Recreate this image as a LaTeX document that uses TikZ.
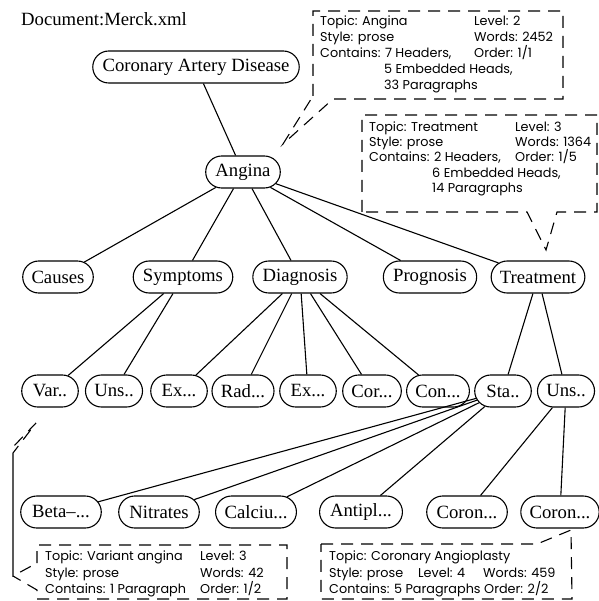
\documentclass[tikz,border=0pt]{standalone}
\usepackage{fontspec}
\setmainfont{Liberation Serif}
\newfontfamily\calloutfont{Poppins}
\usetikzlibrary{shapes.misc}
% pad short labels to a common minimum width
\newcommand\padlabel[2]{\setbox0\hbox{#2}\ifdim\wd0<#1\makebox[#1]{#2}\else\box0\fi}
\begin{document}
\begin{tikzpicture}[x=1pt,y=-1pt,
  topic/.style={draw, rounded rectangle, line width=1.1pt, minimum height=32pt,
    inner xsep=7.5pt, inner ysep=0pt,
    font=\fontsize{18.7}{20}\selectfont},
  link/.style={line width=1.1pt},
  balloon/.style={line width=1.1pt, dash pattern=on 12pt off 8pt, line join=miter},
  info/.style={anchor=base west, inner sep=0pt, font=\calloutfont\fontsize{12.8}{14}\selectfont},
]
\useasboundingbox (0,0) rectangle (598,601);

% document title
\node[anchor=base west, inner sep=0pt, font=\fontsize{18.7}{20}\selectfont] (docname) at (21,26) {Document:Merck.xml};

% tree nodes
\node[topic] (cad) at (196,67) {Coronary Artery Disease};
\node[topic] (angina) at (243,172) {Angina};

\node[topic] (causes) at (58,277) {Causes};
\node[topic] (symptoms) at (183,277) {Symptoms};
\node[topic] (diagnosis) at (300,277) {Diagnosis};
\node[topic] (prognosis) at (430,277) {Prognosis};
\node[topic] (treatment) at (538,277) {Treatment};

\node[topic] (var) at (50,391) {\padlabel{39pt}{Var..}};
\node[topic] (unsA) at (114,391) {\padlabel{39pt}{Uns..}};
\node[topic] (exA) at (179,391) {\padlabel{39pt}{Ex...}};
\node[topic] (rad) at (243,391) {\padlabel{39pt}{Rad...}};
\node[topic] (exB) at (308,391) {\padlabel{39pt}{Ex...}};
\node[topic] (cor) at (372,391) {\padlabel{39pt}{Cor...}};
\node[topic] (con) at (438,391) {\padlabel{39pt}{Con...}};
\node[topic] (sta) at (503,391) {\padlabel{39pt}{Sta..}};
\node[topic] (unsB) at (566,391) {\padlabel{39pt}{Uns..}};

\node[topic] (beta) at (61,512) {\padlabel{63pt}{Beta--...}};
\node[topic] (nitrates) at (159,512) {\padlabel{63pt}{Nitrates}};
\node[topic] (calciu) at (256,512) {\padlabel{63pt}{Calciu...}};
\node[topic] (antipl) at (361,512) {\padlabel{63pt}{Antipl...}};
\node[topic] (coronA) at (467,512) {\padlabel{63pt}{Coron...}};
\node[topic] (coronB) at (560,512) {\padlabel{60pt}{Coron...}};

% tree edges
\draw[link] (cad) -- (angina);
\foreach \c in {causes,symptoms,diagnosis,prognosis,treatment}
  \draw[link] (angina) -- (\c);
\foreach \c in {var,unsA}
  \draw[link] (symptoms) -- (\c);
\foreach \c in {exA,rad,exB,cor,con}
  \draw[link] (diagnosis) -- (\c);
\foreach \c in {sta,unsB}
  \draw[link] (treatment) -- (\c);
\foreach \c in {beta,nitrates,calciu,antipl}
  \draw[link] (sta) -- (\c);
\foreach \c in {coronA,coronB}
  \draw[link] (unsB) -- (\c);

% balloon: Angina
\draw[balloon] (313,96) -- (313,11) -- (563,11) -- (563,99) -- (333,99) -- (283,144) -- cycle;
\node[info] (a1) at (320,26) {Topic: Angina};
\node[info] (a2) at (474,26) {Level: 2};
\node[info] (a3) at (320,42) {Style: prose};
\node[info] (a4) at (474,42) {Words: 2452};
\node[info] (a5) at (320,58) {Contains: 7 Headers,};
\node[info] (a6) at (474,58) {Order: 1/1};
\node[info] (a7) at (384,74) {5 Embedded Heads,};
\node[info] (a8) at (384,90) {33 Paragraphs};

% balloon: Treatment
\draw[balloon] (362,212) -- (362,115) -- (597,115) -- (597,212) -- (557,212) -- (546,250) -- (527,212) -- cycle;
\node[info] (t1) at (369,132) {Topic: Treatment};
\node[info] (t2) at (515,132) {Level: 3};
\node[info] (t3) at (369,147) {Style: prose};
\node[info] (t4) at (515,147) {Words: 1364};
\node[info] (t5) at (369,162) {Contains: 2 Headers,};
\node[info] (t6) at (515,162) {Order: 1/5};
\node[info] (t7) at (432,178) {6 Embedded Heads,};
\node[info] (t8) at (432,193) {14 Paragraphs};

% balloon: Variant angina
\draw[balloon] (37,563) -- (37,545) -- (287,545) -- (287,599) -- (37,599) -- (37,590)
  -- (13,576) -- (13,447) -- (36,423) -- (13,453) -- (13,576) -- cycle;
\node[info] (v1) at (45,560) {Topic: Variant angina};
\node[info] (v2) at (200,560) {Level: 3};
\node[info] (v3) at (45,577) {Style: prose};
\node[info] (v4) at (200,577) {Words: 42};
\node[info] (v5) at (45,593) {Contains: 1 Paragraph};
\node[info] (v6) at (200,593) {Order: 1/2};

% balloon: Coronary Angioplasty
\draw[balloon] (321,544) -- (537,544) -- (571,530) -- (572,599) -- (321,599) -- cycle;
\node[info] (c1) at (329,560) {Topic: Coronary Angioplasty};
\node[info] (c2) at (329,577) {Style: prose};
\node[info] (c3) at (418,577) {Level: 4};
\node[info] (c4) at (483,577) {Words: 459};
\node[info] (c5) at (329,593) {Contains: 5 Paragraphs};
\node[info] (c6) at (484,593) {Order: 2/2};
\end{tikzpicture}
\end{document}
